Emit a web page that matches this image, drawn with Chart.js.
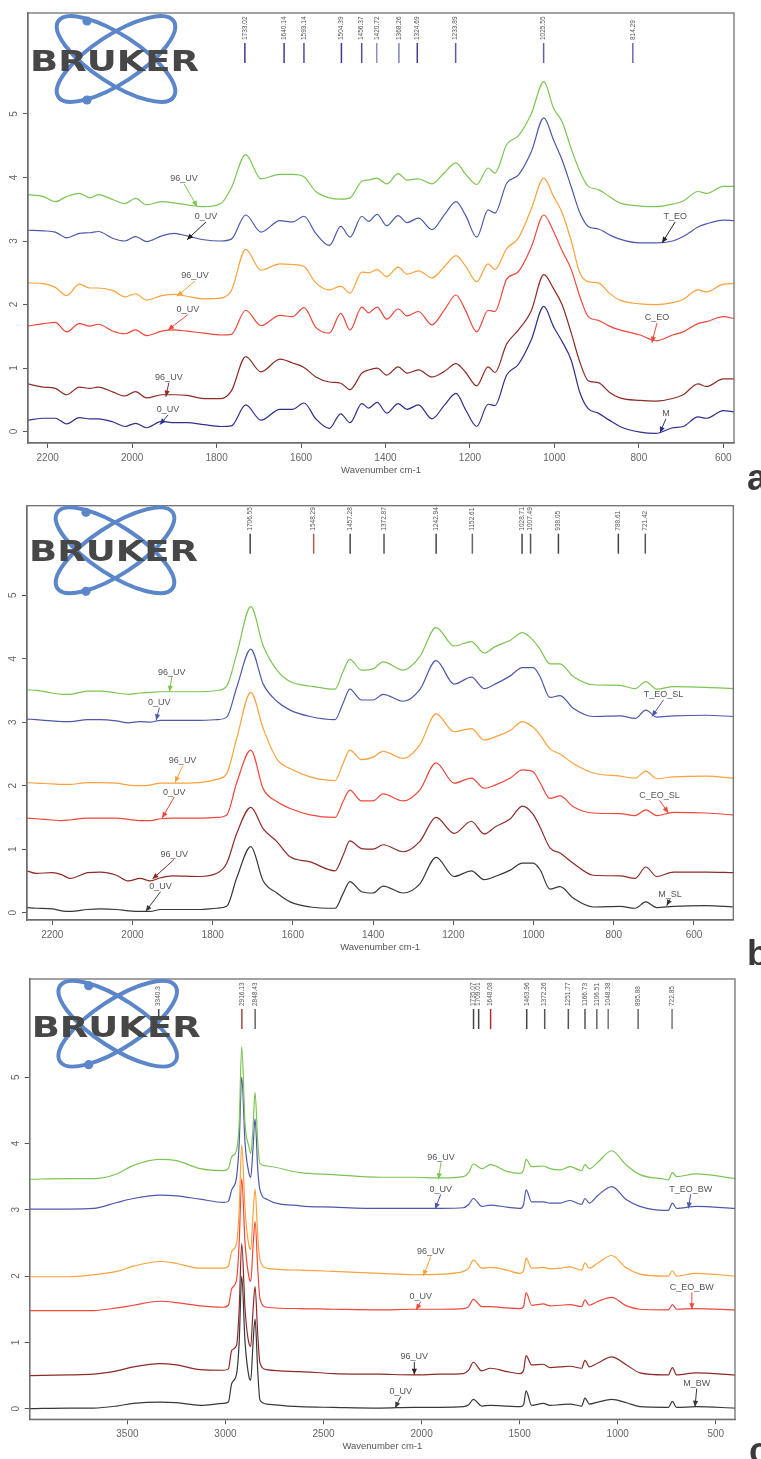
<!DOCTYPE html>
<html>
<head>
<meta charset="utf-8">
<script src="https://cdn.jsdelivr.net/npm/chart.js@4.4.0/dist/chart.umd.min.js"></script>
<style>
  html, body { margin: 0; padding: 0; background: #fff; }
  body { width: 761px; height: 1459px; position: relative; overflow: hidden; }
  canvas { position: absolute; left: 0; }
</style>
</head>
<body>
<canvas id="chartA" width="761" height="490" style="top:0px"></canvas>
<canvas id="chartB" width="761" height="475" style="top:490px"></canvas>
<canvas id="chartC" width="761" height="494" style="top:965px"></canvas>
<script>
'use strict';

// ---------- panel a : T_EO / C_EO / M ----------
const wnA = [2247, 2210, 2182, 2155, 2125, 2100, 2080, 2045, 2017, 1992,
  1966, 1930, 1900, 1870, 1830, 1790, 1765, 1731, 1695, 1650,
  1620, 1593, 1565, 1533, 1506, 1484, 1456, 1440, 1420, 1397,
  1370, 1349, 1322, 1290, 1260, 1233, 1210, 1184, 1157, 1141,
  1113, 1085, 1055, 1025, 1002, 982, 960, 940, 920, 896,
  870, 845, 797, 760, 720, 695, 660, 640, 600, 575];
const tEo96A = [3.73, 3.70, 3.62, 3.70, 3.75, 3.68, 3.73, 3.65, 3.59, 3.67,
  3.57, 3.62, 3.60, 3.57, 3.54, 3.59, 3.84, 4.36, 3.98, 4.05,
  4.05, 4.01, 3.78, 3.68, 3.66, 3.68, 3.94, 3.96, 3.99, 3.90,
  4.06, 3.96, 3.98, 3.90, 4.08, 4.23, 4.05, 3.89, 4.15, 4.07,
  4.52, 4.66, 5.00, 5.51, 5.09, 4.88, 4.45, 4.10, 3.86, 3.81,
  3.70, 3.60, 3.55, 3.54, 3.58, 3.63, 3.78, 3.75, 3.86, 3.86];
const tEo0A = [3.17, 3.16, 3.14, 3.05, 3.12, 3.13, 3.15, 3.04, 3.00, 3.07,
  2.99, 3.08, 3.12, 3.08, 3.02, 3.00, 3.03, 3.41, 3.14, 3.32,
  3.30, 3.39, 3.12, 2.93, 3.23, 3.06, 3.39, 3.31, 3.42, 3.24,
  3.40, 3.29, 3.36, 3.18, 3.42, 3.62, 3.40, 3.06, 3.49, 3.44,
  3.91, 4.04, 4.40, 4.94, 4.59, 4.28, 3.85, 3.45, 3.23, 3.19,
  3.10, 3.03, 2.97, 2.97, 3.00, 3.07, 3.22, 3.27, 3.33, 3.32];
const cEo96A = [2.34, 2.33, 2.27, 2.14, 2.32, 2.26, 2.26, 2.22, 2.12, 2.17,
  2.07, 2.14, 2.16, 2.13, 2.09, 2.10, 2.22, 2.87, 2.54, 2.64,
  2.63, 2.60, 2.34, 2.23, 2.29, 2.18, 2.51, 2.50, 2.55, 2.44,
  2.59, 2.48, 2.53, 2.42, 2.60, 2.77, 2.60, 2.36, 2.64, 2.55,
  2.88, 3.05, 3.50, 3.99, 3.70, 3.45, 3.00, 2.50, 2.36, 2.34,
  2.18, 2.07, 2.01, 2.00, 2.03, 2.08, 2.23, 2.20, 2.32, 2.33];
const cEo0A = [1.66, 1.70, 1.72, 1.57, 1.70, 1.66, 1.69, 1.58, 1.54, 1.60,
  1.51, 1.58, 1.60, 1.58, 1.55, 1.52, 1.53, 1.91, 1.67, 1.83,
  1.81, 1.95, 1.64, 1.55, 1.86, 1.60, 1.96, 1.87, 1.96, 1.77,
  1.93, 1.82, 1.89, 1.68, 1.92, 2.15, 1.90, 1.57, 1.91, 1.89,
  2.40, 2.52, 2.90, 3.41, 3.15, 2.85, 2.55, 2.13, 1.81, 1.75,
  1.66, 1.60, 1.52, 1.43, 1.52, 1.57, 1.70, 1.73, 1.81, 1.78];
const m96A = [0.75, 0.70, 0.68, 0.58, 0.70, 0.68, 0.70, 0.62, 0.56, 0.63,
  0.53, 0.58, 0.58, 0.57, 0.52, 0.52, 0.64, 1.18, 0.94, 1.14,
  1.08, 1.01, 0.86, 0.78, 0.76, 0.66, 0.92, 0.97, 1.00, 0.89,
  1.02, 0.92, 0.97, 0.86, 0.95, 1.07, 0.93, 0.72, 1.02, 0.93,
  1.38, 1.60, 1.90, 2.47, 2.25, 2.00, 1.55, 1.10, 0.80, 0.77,
  0.62, 0.53, 0.49, 0.48, 0.52, 0.58, 0.75, 0.71, 0.83, 0.83];
const m0A = [0.18, 0.21, 0.21, 0.12, 0.22, 0.20, 0.20, 0.15, 0.08, 0.13,
  0.06, 0.16, 0.14, 0.14, 0.11, 0.08, 0.09, 0.42, 0.18, 0.35,
  0.35, 0.45, 0.20, 0.05, 0.28, 0.14, 0.44, 0.37, 0.46, 0.29,
  0.44, 0.35, 0.42, 0.20, 0.42, 0.60, 0.34, 0.08, 0.43, 0.41,
  0.89, 1.06, 1.44, 1.97, 1.65, 1.42, 1.12, 0.62, 0.36, 0.29,
  0.18, 0.08, -0.01, -0.03, 0.06, 0.08, 0.23, 0.21, 0.33, 0.31];
const peaksA = ['1733.02', '1640.14', '1593.14', '1504.39', '1456.37', '1420.72',
  '1368.26', '1324.69', '1233.89', '1025.55', '814.29'];
const xTicksA = [2200, 2000, 1800, 1600, 1400, 1200, 1000, 800, 600];

// ---------- panel b : *_SL ----------
const wnB = [2263, 2240, 2200, 2177, 2156, 2112, 2080, 2040, 2010, 1981,
  1956, 1930, 1900, 1834, 1790, 1765, 1740, 1705, 1674, 1640,
  1607, 1557, 1495, 1475, 1458, 1429, 1400, 1375, 1325, 1284,
  1243, 1198, 1155, 1123, 1096, 1058, 1028, 1001, 984, 959,
  934, 901, 851, 784, 747, 720, 693, 651, 569, 502];
const tEo96B = [3.51, 3.50, 3.46, 3.44, 3.44, 3.49, 3.49, 3.46, 3.44, 3.46,
  3.47, 3.48, 3.48, 3.48, 3.50, 3.57, 4.08, 4.82, 4.20, 3.82,
  3.64, 3.57, 3.52, 3.80, 3.99, 3.82, 3.84, 3.95, 3.82, 4.03,
  4.49, 4.20, 4.27, 4.09, 4.19, 4.29, 4.41, 4.29, 4.15, 3.92,
  3.92, 3.72, 3.59, 3.58, 3.53, 3.64, 3.52, 3.56, 3.55, 3.53];
const tEo0B = [3.05, 3.04, 3.02, 3.01, 3.01, 3.04, 3.04, 3.02, 2.99, 3.01,
  3.00, 3.03, 3.03, 3.03, 3.04, 3.08, 3.55, 4.15, 3.60, 3.33,
  3.19, 3.09, 3.04, 3.30, 3.52, 3.35, 3.35, 3.44, 3.33, 3.51,
  3.97, 3.60, 3.71, 3.53, 3.60, 3.73, 3.86, 3.86, 3.72, 3.39,
  3.42, 3.22, 3.09, 3.10, 3.06, 3.19, 3.08, 3.10, 3.11, 3.09];
const cEo96B = [2.05, 2.04, 2.03, 2.02, 2.02, 2.05, 2.05, 2.04, 2.01, 2.00,
  2.01, 2.04, 2.04, 2.05, 2.10, 2.19, 2.75, 3.47, 2.90, 2.42,
  2.27, 2.14, 2.08, 2.35, 2.56, 2.41, 2.45, 2.54, 2.43, 2.64,
  3.13, 2.85, 2.90, 2.72, 2.77, 2.87, 3.01, 2.92, 2.80, 2.58,
  2.50, 2.35, 2.20, 2.15, 2.12, 2.23, 2.11, 2.14, 2.15, 2.12];
const cEo0B = [1.49, 1.48, 1.46, 1.45, 1.46, 1.49, 1.49, 1.49, 1.47, 1.45,
  1.45, 1.48, 1.49, 1.49, 1.50, 1.54, 2.05, 2.56, 1.95, 1.75,
  1.64, 1.54, 1.50, 1.75, 1.93, 1.76, 1.76, 1.87, 1.76, 1.93,
  2.36, 2.04, 2.12, 1.96, 2.01, 2.12, 2.25, 2.22, 2.05, 1.80,
  1.84, 1.67, 1.57, 1.56, 1.53, 1.62, 1.53, 1.58, 1.57, 1.54];
const m96B = [0.66, 0.62, 0.63, 0.60, 0.54, 0.63, 0.64, 0.59, 0.50, 0.54,
  0.50, 0.55, 0.58, 0.57, 0.62, 0.78, 1.25, 1.66, 1.32, 1.12,
  0.88, 0.80, 0.66, 0.90, 1.13, 1.01, 1.00, 1.07, 0.96, 1.12,
  1.50, 1.25, 1.44, 1.24, 1.35, 1.48, 1.68, 1.55, 1.35, 1.02,
  0.94, 0.78, 0.59, 0.58, 0.54, 0.72, 0.57, 0.64, 0.64, 0.63];
const m0B = [0.08, 0.07, 0.06, 0.03, 0.02, 0.05, 0.06, 0.05, 0.03, 0.02,
  0.02, 0.05, 0.05, 0.05, 0.07, 0.10, 0.55, 1.04, 0.50, 0.31,
  0.17, 0.09, 0.07, 0.30, 0.49, 0.33, 0.31, 0.42, 0.31, 0.45,
  0.87, 0.57, 0.66, 0.52, 0.57, 0.67, 0.78, 0.78, 0.68, 0.37,
  0.41, 0.23, 0.09, 0.10, 0.07, 0.17, 0.08, 0.10, 0.11, 0.09];
const peaksB = ['1706.55', '1548.29', '1457.28', '1372.87', '1242.94', '1152.61',
  '1028.71', '1007.49', '938.05', '788.61', '721.42'];
const xTicksB = [2200, 2000, 1800, 1600, 1400, 1200, 1000, 800, 600];

// ---------- panel c : *_BW ----------
const wnC = [3998, 3800, 3673, 3554, 3469, 3333, 3250, 3129, 3010, 2985,
  2968, 2943, 2930, 2917, 2900, 2880, 2871, 2860, 2849, 2835,
  2824, 2790, 2620, 2450, 2212, 2042, 1900, 1787, 1760, 1736,
  1693, 1650, 1565, 1498, 1480, 1467, 1439, 1379, 1345, 1294,
  1243, 1184, 1167, 1145, 1100, 1031, 955, 887, 760, 742,
  721, 700, 600, 402];
const tEo96C = [3.46, 3.47, 3.47, 3.54, 3.67, 3.76, 3.74, 3.62, 3.59, 3.62,
  3.80, 3.90, 4.30, 5.46, 4.30, 3.95, 3.85, 4.20, 4.77, 4.00,
  3.70, 3.66, 3.56, 3.53, 3.49, 3.49, 3.48, 3.50, 3.56, 3.69,
  3.62, 3.68, 3.58, 3.55, 3.60, 3.76, 3.65, 3.66, 3.62, 3.60,
  3.65, 3.59, 3.68, 3.62, 3.72, 3.89, 3.67, 3.53, 3.46, 3.45,
  3.56, 3.50, 3.54, 3.47];
const tEo0C = [3.01, 3.01, 3.02, 3.11, 3.17, 3.22, 3.21, 3.16, 3.11, 3.13,
  3.30, 3.50, 4.00, 5.00, 4.00, 3.55, 3.49, 3.90, 4.37, 3.60,
  3.30, 3.16, 3.06, 3.04, 3.02, 3.02, 3.02, 3.03, 3.08, 3.17,
  3.05, 3.07, 3.04, 3.02, 3.08, 3.30, 3.12, 3.12, 3.10, 3.10,
  3.14, 3.08, 3.17, 3.10, 3.22, 3.35, 3.15, 3.05, 2.99, 2.99,
  3.10, 3.02, 3.05, 3.02];
const cEo96C = [1.99, 1.99, 2.02, 2.07, 2.15, 2.22, 2.19, 2.12, 2.12, 2.15,
  2.37, 2.50, 3.00, 3.98, 3.00, 2.45, 2.40, 2.90, 3.31, 2.60,
  2.24, 2.12, 2.09, 2.07, 2.04, 2.02, 2.03, 2.07, 2.12, 2.24,
  2.12, 2.13, 2.09, 2.04, 2.08, 2.27, 2.12, 2.13, 2.11, 2.12,
  2.14, 2.09, 2.20, 2.12, 2.20, 2.31, 2.12, 2.03, 2.00, 2.00,
  2.08, 2.00, 2.04, 2.00];
const cEo0C = [1.48, 1.48, 1.48, 1.52, 1.56, 1.62, 1.60, 1.55, 1.53, 1.56,
  1.81, 1.95, 2.50, 3.47, 2.50, 1.98, 1.92, 2.40, 2.82, 2.10,
  1.66, 1.53, 1.51, 1.50, 1.49, 1.50, 1.50, 1.51, 1.54, 1.65,
  1.54, 1.54, 1.52, 1.51, 1.54, 1.75, 1.56, 1.58, 1.55, 1.56,
  1.57, 1.54, 1.64, 1.56, 1.62, 1.68, 1.55, 1.50, 1.49, 1.49,
  1.57, 1.50, 1.51, 1.49];
const m96C = [0.50, 0.51, 0.52, 0.57, 0.63, 0.68, 0.66, 0.59, 0.58, 0.60,
  0.88, 0.96, 1.50, 2.49, 1.50, 0.98, 0.94, 1.45, 1.84, 1.10,
  0.69, 0.59, 0.56, 0.53, 0.52, 0.51, 0.52, 0.53, 0.58, 0.70,
  0.57, 0.61, 0.56, 0.53, 0.58, 0.80, 0.66, 0.67, 0.62, 0.63,
  0.64, 0.61, 0.73, 0.63, 0.69, 0.78, 0.66, 0.54, 0.51, 0.51,
  0.62, 0.51, 0.54, 0.51];
const m0C = [0.00, 0.01, 0.01, 0.04, 0.08, 0.10, 0.09, 0.05, 0.08, 0.10,
  0.38, 0.53, 1.00, 2.00, 1.00, 0.48, 0.43, 0.95, 1.35, 0.55,
  0.13, 0.07, 0.03, 0.02, 0.01, 0.02, 0.02, 0.03, 0.06, 0.14,
  0.04, 0.05, 0.04, 0.03, 0.06, 0.27, 0.05, 0.08, 0.05, 0.06,
  0.07, 0.04, 0.16, 0.07, 0.10, 0.14, 0.09, 0.03, 0.02, 0.02,
  0.11, 0.02, 0.03, 0.01];
const peaksC = ['3340.3', '2916.13', '2848.43', '1735.07', '1709.01', '1648.08',
  '1463.96', '1372.26', '1251.77', '1166.73', '1106.51', '1048.38', '895.88', '722.85'];
const xTicksC = [3500, 3000, 2500, 2000, 1500, 1000, 500];

const yTicks = [0, 1, 2, 3, 4, 5];

const COLORS = {
  green: '#7cc552',
  blue: '#4d58ac',
  orange: '#ffa03a',
  red: '#f0473a',
  brown: '#8e2b27',
  navy: '#2f2f8c',
  dark: '#383838'
};

// text position and arrow tip, both in (wavenumber, absorbance)
const notesA = [
  { text: '96_UV', color: COLORS.green, at: [1877, 3.98], tip: [1846, 3.54] },
  { text: '0_UV', color: '#222', at: [1825, 3.38], tip: [1870, 3.02] },
  { text: 'T_EO', color: '#222', at: [714, 3.38], tip: [745, 2.97] },
  { text: '96_UV', color: COLORS.orange, at: [1851, 2.45], tip: [1894, 2.13] },
  { text: '0_UV', color: COLORS.red, at: [1868, 1.92], tip: [1915, 1.60] },
  { text: 'C_EO', color: COLORS.red, at: [757, 1.79], tip: [769, 1.40] },
  { text: '96_UV', color: COLORS.brown, at: [1913, 0.85], tip: [1920, 0.55] },
  { text: '0_UV', color: COLORS.navy, at: [1915, 0.34], tip: [1934, 0.11] },
  { text: 'M', color: COLORS.navy, at: [736, 0.28], tip: [750, -0.02] }
];
const notesB = [
  { text: '96_UV', color: COLORS.green, at: [1902, 3.79], tip: [1908, 3.48] },
  { text: '0_UV', color: COLORS.blue, at: [1933, 3.31], tip: [1941, 3.03] },
  { text: 'T_EO_SL', color: COLORS.blue, at: [676, 3.43], tip: [705, 3.09] },
  { text: '96_UV', color: COLORS.orange, at: [1875, 2.39], tip: [1894, 2.05] },
  { text: '0_UV', color: COLORS.red, at: [1896, 1.90], tip: [1926, 1.49] },
  { text: 'C_EO_SL', color: COLORS.red, at: [686, 1.85], tip: [664, 1.57] },
  { text: '96_UV', color: COLORS.brown, at: [1896, 0.92], tip: [1950, 0.53] },
  { text: '0_UV', color: COLORS.dark, at: [1930, 0.41], tip: [1967, 0.02] },
  { text: 'M_SL', color: COLORS.dark, at: [660, 0.29], tip: [668, 0.11] }
];
const notesC = [
  { text: '96_UV', color: COLORS.green, at: [1901, 3.79], tip: [1914, 3.46] },
  { text: '0_UV', color: COLORS.blue, at: [1902, 3.31], tip: [1931, 3.01] },
  { text: 'T_EO_BW', color: COLORS.blue, at: [628, 3.31], tip: [640, 3.02] },
  { text: '96_UV', color: COLORS.orange, at: [1953, 2.37], tip: [1991, 2.00] },
  { text: '0_UV', color: COLORS.red, at: [2004, 1.69], tip: [2028, 1.49] },
  { text: 'C_EO_BW', color: COLORS.red, at: [622, 1.83], tip: [622, 1.50] },
  { text: '96_UV', color: '#3a2020', at: [2037, 0.78], tip: [2037, 0.51] },
  { text: '0_UV', color: COLORS.dark, at: [2106, 0.26], tip: [2135, 0.01] },
  { text: 'M_BW', color: COLORS.dark, at: [597, 0.38], tip: [606, 0.03] }
];

const FONT = '"Liberation Sans", Arial, sans-serif';

function drawArrow(ctx, x0, y0, x1, y1, color) {
  ctx.strokeStyle = color;
  ctx.fillStyle = color;
  ctx.lineWidth = 1;
  ctx.beginPath();
  ctx.moveTo(x0, y0);
  ctx.lineTo(x1, y1);
  ctx.stroke();
  const ang = Math.atan2(y1 - y0, x1 - x0);
  const L = 6, W = 2.6;
  ctx.beginPath();
  ctx.moveTo(x1, y1);
  ctx.lineTo(x1 - L * Math.cos(ang) + W * Math.sin(ang), y1 - L * Math.sin(ang) - W * Math.cos(ang));
  ctx.lineTo(x1 - L * Math.cos(ang) - W * Math.sin(ang), y1 - L * Math.sin(ang) + W * Math.cos(ang));
  ctx.closePath();
  ctx.fill();
}

function drawLogo(ctx, left, top, ringDy, textDy) {
  const cx = left + 88, cy = top + ringDy;
  ctx.save();
  ctx.strokeStyle = '#5b86c9';
  ctx.fillStyle = '#5b86c9';
  ctx.lineWidth = 4;
  [0.58, -0.58].forEach(r => {
    ctx.beginPath();
    ctx.ellipse(cx, cy, 69, 24, r, 0, Math.PI * 2);
    ctx.stroke();
  });
  ctx.beginPath(); ctx.arc(cx - 29, cy - 38, 4.6, 0, Math.PI * 2); ctx.fill();
  ctx.beginPath(); ctx.arc(cx - 29, cy + 41, 4.6, 0, Math.PI * 2); ctx.fill();
  ctx.font = 'bold 29px "DejaVu Sans", sans-serif';
  ctx.fillStyle = '#474747';
  ctx.textAlign = 'left';
  ctx.textBaseline = 'alphabetic';
  const w = ctx.measureText('BRUKER').width;
  ctx.translate(left + 2, top + textDy);
  ctx.scale(169 / w, 1);
  ctx.fillText('BRUKER', 0, 0);
  ctx.restore();
}

function overlay(p) {
  return {
    id: 'overlay' + p.letter,
    afterDraw(chart) {
      const { ctx, chartArea: a } = chart;
      const x = chart.scales.x, y = chart.scales.y;
      ctx.save();

      // frame
      ctx.strokeStyle = '#707070';
      ctx.lineWidth = 1.3;
      ctx.strokeRect(a.left, a.top, a.right - a.left, a.bottom - a.top);

      // rotated y tick labels
      ctx.fillStyle = '#666';
      ctx.font = '10px ' + FONT;
      ctx.textAlign = 'center';
      ctx.textBaseline = 'middle';
      yTicks.forEach(v => {
        ctx.save();
        ctx.translate(a.left - 13.5, y.getPixelForValue(v));
        ctx.rotate(-Math.PI / 2);
        ctx.fillText(String(v), 0, 0);
        ctx.restore();
      });

      // axis title
      ctx.fillStyle = '#555';
      ctx.font = '9.5px ' + FONT;
      ctx.fillText('Wavenumber cm-1', (a.left + a.right) / 2, a.bottom + 27);

      // peak markers
      p.peaks.forEach((lab, i) => {
        const px = x.getPixelForValue(parseFloat(lab));
        ctx.strokeStyle = p.peakColors[i] || p.peakColor;
        ctx.lineWidth = 1.5;
        ctx.beginPath();
        ctx.moveTo(px, a.top + p.lineTop);
        ctx.lineTo(px, a.top + p.lineTop + 20);
        ctx.stroke();
        ctx.save();
        ctx.translate(px, a.top + p.lineTop - 3);
        ctx.rotate(-Math.PI / 2);
        ctx.fillStyle = '#555';
        ctx.font = '6.5px ' + FONT;
        ctx.textAlign = 'left';
        ctx.textBaseline = 'middle';
        ctx.fillText(lab, 0, 0);
        ctx.restore();
      });

      drawLogo(ctx, a.left, a.top, p.ringDy, p.textDy);

      // annotations
      p.notes.forEach(n => {
        const tx = x.getPixelForValue(n.at[0]), ty = y.getPixelForValue(n.at[1]);
        const hx = x.getPixelForValue(n.tip[0]), hy = y.getPixelForValue(n.tip[1]);
        ctx.fillStyle = '#555';
        ctx.font = '9px ' + FONT;
        ctx.textAlign = 'center';
        ctx.textBaseline = 'middle';
        ctx.fillText(n.text, tx, ty);
        drawArrow(ctx, tx, ty + 5, hx, hy, n.color);
      });

      // panel letter
      ctx.fillStyle = '#3a3a3a';
      ctx.font = 'bold 36px ' + FONT;
      ctx.textAlign = 'left';
      ctx.textBaseline = 'alphabetic';
      ctx.fillText(p.letter, p.letterX, p.letterY);
      ctx.restore();
    }
  };
}

function makeChart(p) {
  const el = document.getElementById(p.id);
  const datasets = p.series.map(s => ({
    label: s.name,
    data: p.wn.map((w, i) => ({ x: w, y: s.values[i] })),
    borderColor: s.color,
    borderWidth: 1.2,
    pointRadius: 0,
    cubicInterpolationMode: 'monotone',
    fill: false
  }));
  return new Chart(el, {
    type: 'line',
    data: { datasets: datasets },
    options: {
      responsive: false,
      animation: false,
      devicePixelRatio: 1,
      layout: { padding: { top: p.area.top, right: el.width - p.area.right, left: 0, bottom: 0 } },
      plugins: { legend: { display: false }, tooltip: { enabled: false } },
      scales: {
        x: {
          type: 'linear',
          reverse: true,
          min: p.xMin,
          max: p.xMax,
          afterFit: s => { s.height = el.height - p.area.bottom; },
          afterBuildTicks: s => { s.ticks = p.xTicks.map(v => ({ value: v })); },
          grid: { drawOnChartArea: false, drawTicks: true, tickLength: 5, color: '#555' },
          border: { color: '#666', width: 1.3 },
          ticks: {
            color: '#666', font: { family: FONT, size: 10 }, padding: 4,
            maxRotation: 0, autoSkip: false, callback: v => String(v)
          }
        },
        y: {
          type: 'linear',
          min: p.yMin,
          max: p.yMax,
          afterFit: s => { s.width = p.area.left; },
          afterBuildTicks: s => { s.ticks = yTicks.map(v => ({ value: v })); },
          grid: { drawOnChartArea: false, drawTicks: true, tickLength: 5, color: '#555' },
          border: { color: '#666', width: 1.3 },
          ticks: { display: false }
        }
      }
    },
    plugins: [overlay(p)]
  });
}

makeChart({
  id: 'chartA', letter: 'a', letterX: 747, letterY: 490,
  area: { left: 28, top: 13, right: 734, bottom: 443 },
  xMin: 574.7, xMax: 2246.6, yMin: -0.18, yMax: 6.59, xTicks: xTicksA,
  wn: wnA,
  series: [
    { name: 'T_EO 96_UV', values: tEo96A, color: COLORS.green },
    { name: 'T_EO 0_UV', values: tEo0A, color: COLORS.blue },
    { name: 'C_EO 96_UV', values: cEo96A, color: COLORS.orange },
    { name: 'C_EO 0_UV', values: cEo0A, color: COLORS.red },
    { name: 'M 96_UV', values: m96A, color: COLORS.brown },
    { name: 'M 0_UV', values: m0A, color: COLORS.navy }
  ],
  peaks: peaksA, peakColor: '#3c3c8e',
  peakColors: ['#3c3c8e', '#3c3c8e', '#4c4c9c', '#3c3c8e', '#5050a0', '#9090c8',
    '#8080c0', '#3c3c8e', '#5a5aa8', '#6060a8', '#6a6ab0'],
  lineTop: 30, ringDy: 46, textDy: 58,
  notes: notesA
});

makeChart({
  id: 'chartB', letter: 'b', letterX: 747, letterY: 476,
  area: { left: 27, top: 15.7, right: 733.3, bottom: 430 },
  xMin: 502, xMax: 2263, yMin: -0.115, yMax: 6.41, xTicks: xTicksB,
  wn: wnB,
  series: [
    { name: 'T_EO_SL 96_UV', values: tEo96B, color: COLORS.green },
    { name: 'T_EO_SL 0_UV', values: tEo0B, color: COLORS.blue },
    { name: 'C_EO_SL 96_UV', values: cEo96B, color: COLORS.orange },
    { name: 'C_EO_SL 0_UV', values: cEo0B, color: COLORS.red },
    { name: 'M_SL 96_UV', values: m96B, color: COLORS.brown },
    { name: 'M_SL 0_UV', values: m0B, color: COLORS.dark }
  ],
  peaks: peaksB, peakColor: '#444',
  peakColors: ['#444', '#b05a50', '#444', '#555', '#444', '#666', '#444', '#555', '#444', '#444', '#555'],
  lineTop: 28, ringDy: 44.6, textDy: 55.5,
  notes: notesB
});

makeChart({
  id: 'chartC', letter: 'c', letterX: 749, letterY: 498,
  area: { left: 29.7, top: 14, right: 735, bottom: 454.3 },
  xMin: 402, xMax: 3998, yMin: -0.16, yMax: 6.48, xTicks: xTicksC,
  wn: wnC,
  series: [
    { name: 'T_EO_BW 96_UV', values: tEo96C, color: COLORS.green },
    { name: 'T_EO_BW 0_UV', values: tEo0C, color: COLORS.blue },
    { name: 'C_EO_BW 96_UV', values: cEo96C, color: COLORS.orange },
    { name: 'C_EO_BW 0_UV', values: cEo0C, color: COLORS.red },
    { name: 'M_BW 96_UV', values: m96C, color: COLORS.brown },
    { name: 'M_BW 0_UV', values: m0C, color: COLORS.dark }
  ],
  peaks: peaksC, peakColor: '#555',
  peakColors: ['#444', '#a04a40', '#666', '#444', '#444', '#b03030', '#444', '#555',
    '#555', '#555', '#666', '#777', '#666', '#777'],
  lineTop: 30, ringDy: 44.7, textDy: 58,
  notes: notesC
});
</script>
</body>
</html>
